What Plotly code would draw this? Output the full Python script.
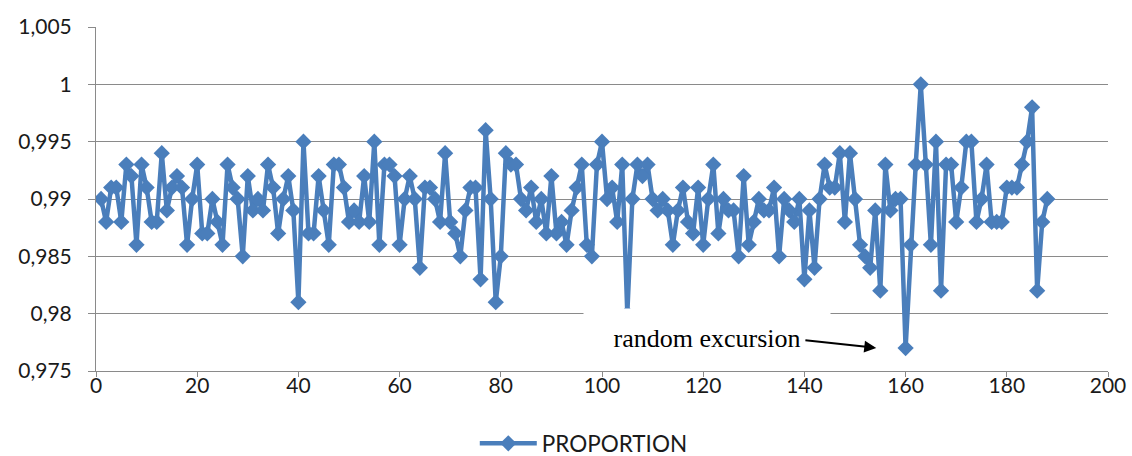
import plotly.graph_objects as go

# Sample index and observed proportion per sample
sample = list(range(1, 189))
proportion = [
    0.990, 0.988, 0.991, 0.991, 0.988, 0.993, 0.992, 0.986, 0.993, 0.991,
    0.988, 0.988, 0.994, 0.989, 0.991, 0.992, 0.991, 0.986, 0.990, 0.993,
    0.987, 0.987, 0.990, 0.988, 0.986, 0.993, 0.991, 0.990, 0.985, 0.992,
    0.989, 0.990, 0.989, 0.993, 0.991, 0.987, 0.990, 0.992, 0.989, 0.981,
    0.995, 0.987, 0.987, 0.992, 0.989, 0.986, 0.993, 0.993, 0.991, 0.988,
    0.989, 0.988, 0.992, 0.988, 0.995, 0.986, 0.993, 0.993, 0.992, 0.986,
    0.990, 0.992, 0.990, 0.984, 0.991, 0.991, 0.990, 0.988, 0.994, 0.988,
    0.987, 0.985, 0.989, 0.991, 0.991, 0.983, 0.996, 0.990, 0.981, 0.985,
    0.994, 0.993, 0.993, 0.990, 0.989, 0.991, 0.988, 0.990, 0.987, 0.992,
    0.987, 0.988, 0.986, 0.989, 0.991, 0.993, 0.986, 0.985, 0.993, 0.995,
    0.990, 0.991, 0.988, 0.993, 0.980, 0.990, 0.993, 0.992, 0.993, 0.990,
    0.989, 0.990, 0.989, 0.986, 0.989, 0.991, 0.988, 0.987, 0.991, 0.986,
    0.990, 0.993, 0.987, 0.990, 0.989, 0.989, 0.985, 0.992, 0.986, 0.988,
    0.990, 0.989, 0.989, 0.991, 0.985, 0.990, 0.989, 0.988, 0.990, 0.983,
    0.989, 0.984, 0.990, 0.993, 0.991, 0.991, 0.994, 0.988, 0.994, 0.990,
    0.986, 0.985, 0.984, 0.989, 0.982, 0.993, 0.989, 0.990, 0.990, 0.977,
    0.986, 0.993, 1.000, 0.993, 0.986, 0.995, 0.982, 0.993, 0.993, 0.988,
    0.991, 0.995, 0.995, 0.988, 0.990, 0.993, 0.988, 0.988, 0.988, 0.991,
    0.991, 0.991, 0.993, 0.995, 0.998, 0.982, 0.988, 0.990,
]

x_ticks = [0, 20, 40, 60, 80, 100, 120, 140, 160, 180, 200]
y_ticks = [0.975, 0.980, 0.985, 0.990, 0.995, 1.000, 1.005]
y_tick_text = ["0,975", "0,98", "0,985", "0,99", "0,995", "1", "1,005"]

BLUE = "#4A7EBB"
GRID = "#8A8A8A"
FONT = "Lato"
FS = 21

fig = go.Figure()
fig.add_trace(go.Scatter(
    x=sample, y=proportion, mode="lines+markers", name="PROPORTION",
    line=dict(color=BLUE, width=4.5),
    marker=dict(symbol="diamond", size=12.5, color=BLUE),
))

# Label with an opaque white box, and a separate arrow pointing at the dip
fig.add_annotation(
    x=120.8, y=0.97788, xref="x", yref="y", text="random excursion",
    showarrow=False, bgcolor="white", width=244, height=56,
    font=dict(family="Liberation Serif", size=26, color="black"),
)
fig.add_annotation(
    x=154.2, y=0.97701, ax=139.9, ay=0.97770,
    xref="x", yref="y", axref="x", ayref="y", text="",
    showarrow=True, arrowhead=2, arrowsize=1.2, arrowwidth=2,
    arrowcolor="black", standoff=0, startstandoff=0,
)

fig.update_layout(
    width=1132, height=456,
    margin=dict(l=96, r=24, t=27, b=85, autoexpand=False),
    paper_bgcolor="white", plot_bgcolor="white",
    font=dict(family=FONT, size=FS, color="#1a1a1a"),
    showlegend=True,
    legend=dict(
        orientation="h", x=0.482, xanchor="center",
        yref="container", y=0.027, yanchor="middle",
        font=dict(family=FONT, size=22.5), itemwidth=57,
    ),
    xaxis=dict(
        range=[0, 200], tickvals=x_ticks, showgrid=False, zeroline=False,
        showline=True, linecolor=GRID, linewidth=1, automargin=False,
        ticks="outside", ticklen=5, tickcolor=GRID,
        ticklabelstandoff=-9,
        tickfont=dict(family=FONT, size=FS),
    ),
    yaxis=dict(
        range=[0.975, 1.005], tickvals=y_ticks, ticktext=y_tick_text,
        showgrid=True, gridcolor=GRID, gridwidth=1, zeroline=False,
        showline=True, linecolor=GRID, linewidth=1, automargin=False,
        ticks="outside", ticklen=7, tickcolor=GRID,
        ticklabelstandoff=12,
        tickfont=dict(family=FONT, size=FS),
    ),
)

fig.write_html("out.html")
